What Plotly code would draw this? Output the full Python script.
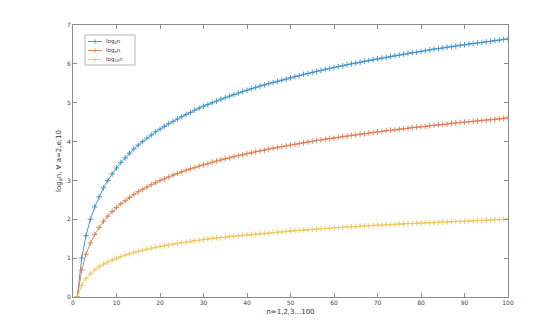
import plotly.graph_objects as go

n = list(range(1, 101))

log2_vals = [0.00, 1.00, 1.58, 2.00, 2.32, 2.58, 2.81, 3.00, 3.17, 3.32,
             3.46, 3.58, 3.70, 3.81, 3.91, 4.00, 4.09, 4.17, 4.25, 4.32,
             4.39, 4.46, 4.52, 4.58, 4.64, 4.70, 4.75, 4.81, 4.86, 4.91,
             4.95, 5.00, 5.04, 5.09, 5.13, 5.17, 5.21, 5.25, 5.29, 5.32,
             5.36, 5.39, 5.43, 5.46, 5.49, 5.52, 5.55, 5.58, 5.61, 5.64,
             5.67, 5.70, 5.73, 5.75, 5.78, 5.81, 5.83, 5.86, 5.88, 5.91,
             5.93, 5.95, 5.98, 6.00, 6.02, 6.04, 6.07, 6.09, 6.11, 6.13,
             6.15, 6.17, 6.19, 6.21, 6.23, 6.25, 6.27, 6.29, 6.30, 6.32,
             6.34, 6.36, 6.38, 6.39, 6.41, 6.43, 6.44, 6.46, 6.48, 6.49,
             6.51, 6.52, 6.54, 6.55, 6.57, 6.58, 6.60, 6.61, 6.63, 6.64]

ln_vals = [0.00, 0.69, 1.10, 1.39, 1.61, 1.79, 1.95, 2.08, 2.20, 2.30,
           2.40, 2.48, 2.56, 2.64, 2.71, 2.77, 2.83, 2.89, 2.94, 3.00,
           3.04, 3.09, 3.14, 3.18, 3.22, 3.26, 3.30, 3.33, 3.37, 3.40,
           3.43, 3.47, 3.50, 3.53, 3.56, 3.58, 3.61, 3.64, 3.66, 3.69,
           3.71, 3.74, 3.76, 3.78, 3.81, 3.83, 3.85, 3.87, 3.89, 3.91,
           3.93, 3.95, 3.97, 3.99, 4.01, 4.03, 4.04, 4.06, 4.08, 4.09,
           4.11, 4.13, 4.14, 4.16, 4.17, 4.19, 4.20, 4.22, 4.23, 4.25,
           4.26, 4.28, 4.29, 4.30, 4.32, 4.33, 4.34, 4.36, 4.37, 4.38,
           4.39, 4.41, 4.42, 4.43, 4.44, 4.45, 4.47, 4.48, 4.49, 4.50,
           4.51, 4.52, 4.53, 4.54, 4.55, 4.56, 4.57, 4.58, 4.60, 4.61]

log10_vals = [0.00, 0.30, 0.48, 0.60, 0.70, 0.78, 0.85, 0.90, 0.95, 1.00,
              1.04, 1.08, 1.11, 1.15, 1.18, 1.20, 1.23, 1.26, 1.28, 1.30,
              1.32, 1.34, 1.36, 1.38, 1.40, 1.41, 1.43, 1.45, 1.46, 1.48,
              1.49, 1.51, 1.52, 1.53, 1.54, 1.56, 1.57, 1.58, 1.59, 1.60,
              1.61, 1.62, 1.63, 1.64, 1.65, 1.66, 1.67, 1.68, 1.69, 1.70,
              1.71, 1.72, 1.72, 1.73, 1.74, 1.75, 1.76, 1.76, 1.77, 1.78,
              1.79, 1.79, 1.80, 1.81, 1.81, 1.82, 1.83, 1.83, 1.84, 1.85,
              1.85, 1.86, 1.86, 1.87, 1.88, 1.88, 1.89, 1.89, 1.90, 1.90,
              1.91, 1.91, 1.92, 1.92, 1.93, 1.93, 1.94, 1.94, 1.95, 1.95,
              1.96, 1.96, 1.97, 1.97, 1.98, 1.98, 1.99, 1.99, 2.00, 2.00]

series_names = ["log<sub>2</sub>n", "log<sub>e</sub>n", "log<sub>10</sub>n"]
series_vals = [log2_vals, ln_vals, log10_vals]
colors = ["#3a8fcc", "#e07a4c", "#f0c458"]

x_ticks = [0, 10, 20, 30, 40, 50, 60, 70, 80, 90, 100]
y_ticks = [0, 1, 2, 3, 4, 5, 6, 7]

W, H = 560, 334
ML, MR, MT, MB = 73, 52, 25, 37
PW, PH = W - ML - MR, H - MT - MB


def px_x(px):
    return (px - ML) / PW


def px_y(py):
    return (H - MB - py) / PH


fig = go.Figure()
for name, vals, c in zip(series_names, series_vals, colors):
    fig.add_trace(go.Scatter(
        x=n, y=vals, name=name, mode="lines+markers", showlegend=False,
        line=dict(color=c, width=0.9),
        marker=dict(symbol="cross-thin", size=4, line=dict(color=c, width=0.9)),
    ))

# hand-built compact legend (MATLAB style)
shapes = [dict(type="rect", xref="paper", yref="paper",
               x0=px_x(85), x1=px_x(135), y0=px_y(65), y1=px_y(35),
               line=dict(color="#b5b5b5", width=1), fillcolor="white", layer="above")]
annotations = []
row_y = [41.5, 50.5, 59.5]
for name, c, ry in zip(series_names, colors, row_y):
    shapes.append(dict(type="line", xref="paper", yref="paper",
                       x0=px_x(88), x1=px_x(102), y0=px_y(ry), y1=px_y(ry),
                       line=dict(color=c, width=0.9), layer="above"))
    shapes.append(dict(type="line", xref="paper", yref="paper",
                       x0=px_x(95), x1=px_x(95), y0=px_y(ry - 2), y1=px_y(ry + 2),
                       line=dict(color=c, width=0.9), layer="above"))
    annotations.append(dict(xref="paper", yref="paper", x=px_x(104), y=px_y(ry),
                            xanchor="left", yanchor="middle", showarrow=False,
                            text=name, font=dict(family="DejaVu Sans", size=5.5, color="#333")))

axis_common = dict(
    showgrid=False, zeroline=False, showline=True, linecolor="#8c8c8c",
    linewidth=1, mirror="ticks", ticks="inside", ticklen=4, tickwidth=1,
    tickcolor="#8c8c8c", tickfont=dict(family="DejaVu Sans", size=6, color="#444"),
)

fig.update_layout(
    width=W, height=H,
    margin=dict(l=ML, r=MR, t=MT, b=MB),
    paper_bgcolor="white", plot_bgcolor="white",
    showlegend=False,
    shapes=shapes, annotations=annotations,
    xaxis=dict(range=[0, 100], tickvals=x_ticks,
               title=dict(text="n=1,2,3...100", standoff=3,
                          font=dict(family="DejaVu Sans", size=7, color="#333")),
               **axis_common),
    yaxis=dict(range=[0, 7], tickvals=y_ticks,
               title=dict(text="log<sub>a</sub>n, ∀ a=2,e,10", standoff=4,
                          font=dict(family="DejaVu Sans", size=7, color="#333")),
               **axis_common),
)

fig.write_html("out.html")
